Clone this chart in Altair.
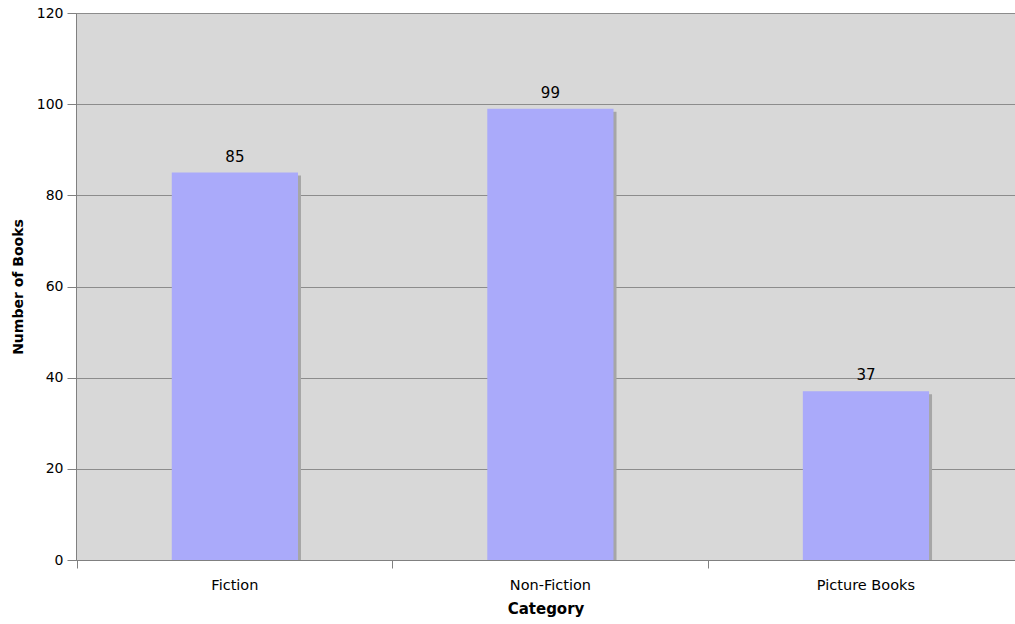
import altair as alt
import pandas as pd

categories = ["Fiction", "Non-Fiction", "Picture Books"]
books = [85, 99, 37]

df = pd.DataFrame({"Category": categories, "Books": books})

FONT = "DejaVu Sans"

x_enc = alt.X(
    "Category:N",
    sort=categories,
    scale=alt.Scale(paddingInner=0.6, paddingOuter=0.288, align=0.527),
    axis=alt.Axis(
        title="Category",
        labelAngle=0,
        bandPosition=-0.75,
        tickSize=8,
        tickColor="#808080",
        domainColor="#808080",
        labelFontSize=14.5,
        labelFont=FONT,
        labelColor="#000000",
        labelPadding=10,
        titleFont=FONT,
        titleFontSize=15,
        titleFontWeight="bold",
        titleColor="#000000",
        titlePadding=10,
        grid=False,
    ),
)

y_enc = alt.Y(
    "Books:Q",
    scale=alt.Scale(domain=[0, 120], nice=False),
    axis=alt.Axis(
        title="Number of Books",
        values=[0, 20, 40, 60, 80, 100, 120],
        tickSize=9,
        tickColor="#808080",
        domainColor="#808080",
        gridColor="#8c8c8c",
        gridOpacity=1,
        labelFontSize=14,
        labelFont=FONT,
        labelColor="#000000",
        labelPadding=4,
        titleFont=FONT,
        titleFontSize=14,
        titleFontWeight="bold",
        titleColor="#000000",
        titlePadding=11,
    ),
)

base = alt.Chart(df)

shadow = base.mark_bar(color="#a6a6a6", xOffset=3, yOffset=3, clip=True).encode(
    x=x_enc, y=y_enc
)
bars = base.mark_bar(color="#aaaafa").encode(x=x_enc, y=y_enc)
labels = base.mark_text(
    baseline="bottom", dy=-8, fontSize=15, font=FONT, color="#000000"
).encode(x=alt.X("Category:N", sort=categories), y="Books:Q", text="Books:Q")

chart = (
    alt.layer(shadow, bars, labels)
    .properties(
        width=939,
        height=547,
        autosize=alt.AutoSizeParams(type="none"),
        padding={"left": 76, "top": 13, "right": 0, "bottom": 64},
        background="#ffffff",
    )
    .configure_view(fill="#d8d8d8", stroke="#8c8c8c", strokeWidth=1)
)

chart.save("out.html", embed_options={"renderer": "svg", "actions": False})
